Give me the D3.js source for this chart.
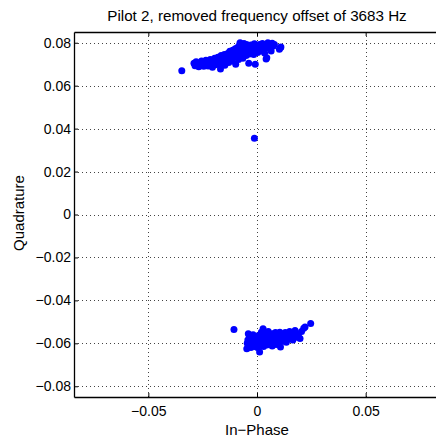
<!DOCTYPE html>
<html>
<head>
<meta charset="utf-8">
<title>Pilot 2 constellation</title>
<script src="https://d3js.org/d3.v7.min.js"></script>
<style>
  body { margin: 0; background: #fff; }
  text { font-family: "Liberation Sans", Arial, sans-serif; fill: #000; }
</style>
</head>
<body>
<svg id="chart"></svg>
<script>
// received symbols, [in-phase, quadrature]
const upperCluster = [
  [-0.0346,0.0670],
  [-0.0290,0.0705],[-0.0285,0.0693],[-0.0280,0.0712],[-0.0275,0.0700],[-0.0268,0.0688],
  [-0.0262,0.0706],[-0.0255,0.0715],[-0.0250,0.0697],[-0.0245,0.0690],[-0.0240,0.0708],
  [-0.0235,0.0718],[-0.0230,0.0700],[-0.0225,0.0692],[-0.0220,0.0712],[-0.0215,0.0722],
  [-0.0210,0.0704],[-0.0205,0.0686],[-0.0200,0.0716],[-0.0195,0.0728],[-0.0190,0.0698],
  [-0.0185,0.0710],[-0.0180,0.0732],[-0.0175,0.0720],[-0.0168,0.0678],[-0.0168,0.0702],
  [-0.0165,0.0740],[-0.0160,0.0712],[-0.0155,0.0728],[-0.0150,0.0745],[-0.0148,0.0695],
  [-0.0145,0.0718],[-0.0140,0.0736],[-0.0135,0.0750],[-0.0130,0.0708],[-0.0128,0.0725],
  [-0.0125,0.0760],[-0.0120,0.0742],[-0.0115,0.0716],[-0.0112,0.0765],[-0.0110,0.0730],
  [-0.0105,0.0752],[-0.0100,0.0772],[-0.0098,0.0700],[-0.0095,0.0738],[-0.0090,0.0778],
  [-0.0088,0.0758],[-0.0085,0.0722],[-0.0080,0.0790],[-0.0078,0.0800],[-0.0075,0.0745],
  [-0.0070,0.0768],[-0.0068,0.0785],[-0.0065,0.0728],[-0.0060,0.0796],[-0.0058,0.0755],
  [-0.0055,0.0776],[-0.0050,0.0740],[-0.0048,0.0792],[-0.0045,0.0760],[-0.0040,0.0783],
  [-0.0038,0.0705],[-0.0035,0.0748],[-0.0030,0.0772],[-0.0028,0.0790],[-0.0025,0.0758],
  [-0.0020,0.0780],[-0.0015,0.0745],[-0.0012,0.0795],[-0.0010,0.0765],[-0.0008,0.0700],
  [-0.0005,0.0778],[0.0000,0.0788],[0.0003,0.0755],[0.0008,0.0770],[0.0012,0.0792],
  [0.0015,0.0762],[0.0020,0.0782],[0.0025,0.0796],[0.0030,0.0768],[0.0035,0.0752],
  [0.0040,0.0786],[0.0042,0.0724],[0.0045,0.0730],[0.0050,0.0800],[0.0055,0.0775],
  [0.0060,0.0790],[0.0065,0.0762],[0.0070,0.0798],[0.0075,0.0785],[0.0080,0.0792],
  [0.0103,0.0770],[0.0108,0.0778],[0.0110,0.0780]
];
const middlePoint = [
  [-0.0012,0.0355]
];
const lowerCluster = [
  [-0.0106,-0.0536],
  [-0.0047,-0.0625],[-0.0045,-0.0600],[-0.0042,-0.0585],[-0.0040,-0.0555],[-0.0038,-0.0612],
  [-0.0035,-0.0570],[-0.0030,-0.0595],[-0.0028,-0.0620],[-0.0025,-0.0580],[-0.0020,-0.0605],
  [-0.0018,-0.0560],[-0.0015,-0.0590],[-0.0010,-0.0615],[-0.0008,-0.0575],[-0.0005,-0.0600],
  [0.0000,-0.0585],[0.0002,-0.0620],[0.0005,-0.0565],[0.0008,-0.0595],[0.0010,-0.0610],
  [0.0012,-0.0640],[0.0015,-0.0578],[0.0018,-0.0600],[0.0020,-0.0548],[0.0025,-0.0588],
  [0.0028,-0.0532],[0.0030,-0.0615],[0.0032,-0.0570],[0.0035,-0.0598],[0.0040,-0.0582],
  [0.0042,-0.0560],[0.0045,-0.0608],[0.0050,-0.0590],[0.0052,-0.0545],[0.0055,-0.0575],
  [0.0060,-0.0600],[0.0062,-0.0565],[0.0065,-0.0585],[0.0070,-0.0612],[0.0072,-0.0555],
  [0.0075,-0.0595],[0.0080,-0.0575],[0.0085,-0.0550],[0.0088,-0.0605],[0.0090,-0.0585],
  [0.0095,-0.0565],[0.0100,-0.0595],[0.0105,-0.0548],[0.0108,-0.0617],[0.0110,-0.0578],
  [0.0115,-0.0560],[0.0120,-0.0590],[0.0125,-0.0572],[0.0130,-0.0550],[0.0135,-0.0595],
  [0.0140,-0.0565],[0.0145,-0.0580],[0.0150,-0.0545],[0.0155,-0.0570],[0.0160,-0.0555],
  [0.0165,-0.0585],[0.0170,-0.0560],[0.0175,-0.0540],[0.0180,-0.0572],[0.0185,-0.0555],
  [0.0190,-0.0565],[0.0198,-0.0578],[0.0205,-0.0545],[0.0215,-0.0530],[0.0221,-0.0524],
  [0.0247,-0.0508]
];
const xTicks = [-0.05, 0, 0.05];
const yTicks = [-0.08, -0.06, -0.04, -0.02, 0, 0.02, 0.04, 0.06, 0.08];
const titleText = "Pilot 2, removed frequency offset of 3683 Hz";

const width = 436, height = 441;
const margin = {top: 32, right: -4, bottom: 44, left: 74};
const iw = width - margin.left - margin.right;
const ih = height - margin.top - margin.bottom;

const svg = d3.select("#chart").attr("width", width).attr("height", height);
const g = svg.append("g").attr("transform", `translate(${margin.left},${margin.top})`);

const x = d3.scaleLinear().domain([-0.0842, 0.0842]).range([0, iw]);
const y = d3.scaleLinear().domain([-0.085, 0.085]).range([ih, 0]);

// MATLAB style labels with a real minus sign
const fmt = v => v === 0 ? "0" : (v < 0 ? "\u2212" : "") + Math.abs(v).toFixed(2);

// dotted grid
const grid = g.append("g").attr("stroke", "#444").attr("stroke-width", 1).attr("stroke-dasharray", "1 3");
grid.selectAll("line.gx").data(xTicks).join("line")
  .attr("x1", d => Math.round(x(d)) + 0.5).attr("x2", d => Math.round(x(d)) + 0.5)
  .attr("y1", 0).attr("y2", ih);
grid.selectAll("line.gy").data(yTicks).join("line")
  .attr("y1", d => Math.round(y(d)) + 0.5).attr("y2", d => Math.round(y(d)) + 0.5)
  .attr("x1", 0).attr("x2", iw);

// points
const allPts = upperCluster.concat(middlePoint, lowerCluster);
g.append("g").selectAll("circle").data(allPts).join("circle")
  .attr("cx", d => x(d[0])).attr("cy", d => y(d[1]))
  .attr("r", 3.5).attr("fill", "#0000ff");

// axes (ticks inside)
const xAxis = g.append("g").attr("transform", `translate(0,${ih})`)
  .call(d3.axisBottom(x).tickValues(xTicks).tickSizeInner(-4).tickSizeOuter(0).tickPadding(9).tickFormat(fmt));
const xTop = g.append("g")
  .call(d3.axisTop(x).tickValues(xTicks).tickSizeInner(-4).tickSizeOuter(0).tickFormat(""));
const yAxis = g.append("g")
  .call(d3.axisLeft(y).tickValues(yTicks).tickSizeInner(-4).tickSizeOuter(0).tickPadding(3).tickFormat(fmt));

[xAxis, xTop, yAxis].forEach(a => {
  a.select(".domain").attr("stroke", "#000").attr("stroke-width", 1.3);
  a.selectAll(".tick line").attr("stroke", "#000");
  a.selectAll(".tick text").style("font-size", "14px").style("font-family", "Liberation Sans, Arial, sans-serif").attr("fill", "#000");
});

// title and labels
svg.append("text").attr("x", 257).attr("y", 21).attr("text-anchor", "middle")
  .style("font-size", "15.2px").text(titleText);
svg.append("text").attr("x", 257).attr("y", 435).attr("text-anchor", "middle")
  .style("font-size", "15px").text("In\u2212Phase");
svg.append("text").attr("transform", "translate(24,213) rotate(-90)").attr("text-anchor", "middle")
  .style("font-size", "15px").text("Quadrature");
</script>
</body>
</html>
